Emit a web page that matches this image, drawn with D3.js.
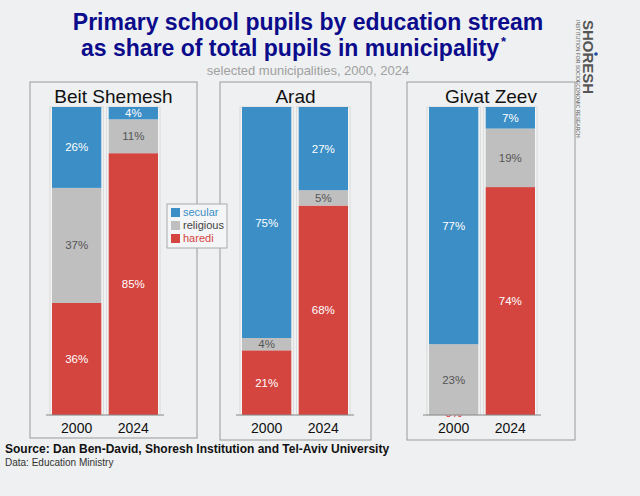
<!DOCTYPE html>
<html><head><meta charset="utf-8">
<script src="https://cdn.jsdelivr.net/npm/d3@7"></script>
<style>body{margin:0;background:#eef0f1;font-family:"Liberation Sans",Arial,sans-serif}</style>
</head><body>
<svg id="chart" width="640" height="496"></svg>
<script>
var towns = ['Beit Shemesh', 'Arad', 'Givat Zeev'];
var years = ['2000', '2024'];
var streams = ['haredi', 'religious', 'secular'];
// per town, per year: [haredi, religious, secular]
var haredi    = [[36, 85], [21, 68], [0, 74]];
var religious = [[37, 11], [4, 5], [23, 19]];
var secular   = [[26, 4], [75, 27], [77, 7]];

var colors = {haredi:'#d44540', religious:'#bfbfbf', secular:'#3b8ec6'};
var svg = d3.select('#chart');

svg.append('text').attr('x', 308).attr('y', 30).attr('text-anchor','middle')
  .attr('font-size', 23).attr('font-weight','bold').attr('fill','#0b0b8c')
  .text('Primary school pupils by education stream');
svg.append('text').attr('x', 290).attr('y', 56).attr('text-anchor','middle')
  .attr('font-size', 23).attr('font-weight','bold').attr('fill','#0b0b8c')
  .text('as share of total pupils in municipality');
svg.append('text').attr('x', 501).attr('y', 46).attr('font-size', 13).attr('font-weight','bold')
  .attr('fill','#0b0b8c').text('*');
svg.append('text').attr('x', 308).attr('y', 75).attr('text-anchor','middle')
  .attr('font-size', 13).attr('fill','#a0a0a0').text('selected municipalities, 2000, 2024');

var panels = [{x:30, w:167, h:356}, {x:220, w:151, h:358}, {x:407, w:168, h:358}];
var y = d3.scaleLinear().domain([0, 100]).range([415, 107]);

towns.forEach(function(town, i){
  var p = panels[i];
  var g = svg.append('g');
  g.append('rect').attr('x', p.x).attr('y', 82).attr('width', p.w).attr('height', p.h)
    .attr('fill','#eef0f1').attr('stroke','#9a9a9a');
  g.append('text').attr('x', p.x + p.w/2).attr('y', 103).attr('text-anchor','middle')
    .attr('font-size', 19).attr('fill','#111').text(town);
  var x = d3.scaleBand().domain(years).range([p.x + 22, p.x + 22 + 106]).paddingInner(0.13).paddingOuter(0);
  years.forEach(function(yr, j){
    var vals = {haredi: haredi[i][j], religious: religious[i][j], secular: secular[i][j]};
    var total = vals.haredi + vals.religious + vals.secular;
    var band = x(yr), bw = x.bandwidth();
    g.append('rect').attr('x', band - 2).attr('y', 107).attr('width', bw + 4).attr('height', 308)
      .attr('fill','#f4f5f6').attr('stroke','#d8d8d8');
    var acc = 0;
    streams.forEach(function(s){
      var v = vals[s] / total * 100;
      var y0 = y(acc), y1 = y(acc + v);
      g.append('rect').attr('x', band).attr('y', y1).attr('width', bw).attr('height', y0 - y1)
        .attr('fill', colors[s]);
      var ty = v > 0 ? (y0 + y1)/2 + 4 : y0 + 2;
      g.append('text').attr('x', band + bw/2).attr('y', ty).attr('text-anchor','middle')
        .attr('font-size', 11.5)
        .attr('fill', vals[s] === 0 ? '#e03030' : (s === 'religious' ? '#555' : '#fff'))
        .text(vals[s] + '%');
      acc += v;
    });
    g.append('text').attr('x', band + bw/2).attr('y', 433).attr('text-anchor','middle')
      .attr('font-size', 14).attr('fill','#111').text(yr);
  });
  g.append('line').attr('x1', x('2000') - 6).attr('x2', x('2024') + x.bandwidth() + 6)
    .attr('y1', 415).attr('y2', 415).attr('stroke','#888');
});

// legend
var lg = svg.append('g').attr('transform','translate(167,204)');
lg.append('rect').attr('width', 60).attr('height', 44).attr('fill','#f4f5f6').attr('stroke','#aaa');
['secular','religious','haredi'].forEach(function(s, k){
  lg.append('rect').attr('x', 4).attr('y', 4 + k*13).attr('width', 9).attr('height', 9).attr('fill', colors[s]);
  lg.append('text').attr('x', 16).attr('y', 12 + k*13).attr('font-size', 11)
    .attr('fill', s === 'religious' ? '#444' : colors[s]).text(s);
});

// logo
var lo = svg.append('g').attr('transform','translate(583,20) rotate(90)');
lo.append('text').attr('x', 0).attr('y', 0).attr('font-size', 15).attr('font-weight','bold')
  .attr('fill','#555').text('SHORESH');
lo.append('text').attr('x', 0).attr('y', 7).attr('font-size', 5).attr('fill','#555')
  .text('INSTITUTION FOR SOCIOECONOMIC RESEARCH');
svg.append('circle').attr('cx', 596).attr('cy', 54).attr('r', 1.8).attr('fill','#1a4ba0');

svg.append('text').attr('x', 5).attr('y', 453).attr('font-size', 12).attr('font-weight','bold')
  .attr('fill','#111').text('Source: Dan Ben-David, Shoresh Institution and Tel-Aviv University');
svg.append('text').attr('x', 5).attr('y', 466).attr('font-size', 10).attr('fill','#333')
  .text('Data: Education Ministry');
</script>
</body></html>
